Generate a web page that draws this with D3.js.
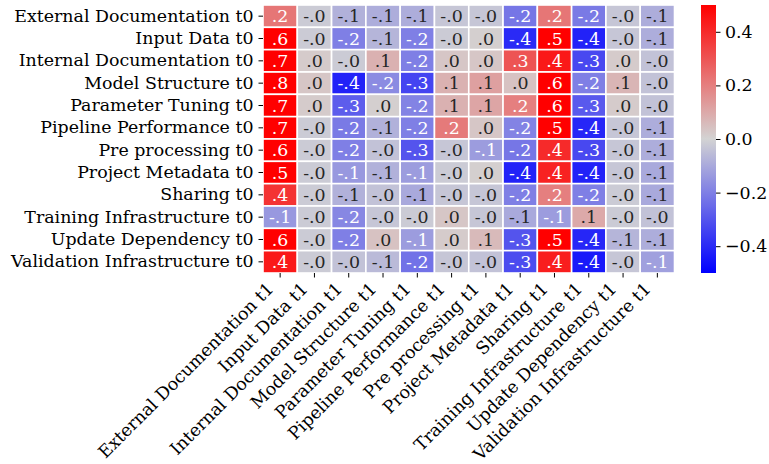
<!DOCTYPE html>
<html><head><meta charset="utf-8">
<script src="https://cdn.jsdelivr.net/npm/d3@7"></script>
<style>body{margin:0;background:#fff}svg{display:block}text{font-family:"DejaVu Serif",serif}</style>
</head><body><svg id="c" width="769" height="464"></svg>
<script>
const rowLabels = ["External Documentation t0","Input Data t0","Internal Documentation t0","Model Structure t0","Parameter Tuning t0","Pipeline Performance t0","Pre processing t0","Project Metadata t0","Sharing t0","Training Infrastructure t0","Update Dependency t0","Validation Infrastructure t0"];
const colLabels = ["External Documentation t1","Input Data t1","Internal Documentation t1","Model Structure t1","Parameter Tuning t1","Pipeline Performance t1","Pre processing t1","Project Metadata t1","Sharing t1","Training Infrastructure t1","Update Dependency t1","Validation Infrastructure t1"];
const values = [
 [0.22,-0.02,-0.08,-0.09,-0.09,-0.03,-0.03,-0.22,0.22,-0.21,-0.03,-0.09],
 [0.60,-0.02,-0.20,-0.07,-0.20,-0.02,0.01,-0.40,0.50,-0.42,-0.03,-0.09],
 [0.68,0.02,-0.02,0.08,-0.20,0.03,0.03,0.30,0.44,-0.33,0.02,-0.04],
 [0.78,0.03,-0.42,-0.17,-0.34,0.08,0.12,0.04,0.60,-0.20,0.07,-0.04],
 [0.70,0.02,-0.28,0.01,-0.19,0.08,0.11,0.20,0.60,-0.29,0.02,-0.04],
 [0.66,-0.02,-0.21,-0.08,-0.20,0.21,0.03,-0.19,0.52,-0.41,-0.03,-0.09],
 [0.62,-0.02,-0.20,-0.04,-0.30,-0.03,-0.13,-0.22,0.40,-0.33,-0.03,-0.09],
 [0.50,-0.02,-0.14,-0.08,-0.13,-0.02,0.01,-0.42,0.42,-0.42,-0.03,-0.10],
 [0.38,-0.02,-0.08,-0.04,-0.10,-0.03,-0.03,-0.20,0.20,-0.20,-0.02,-0.10],
 [-0.14,-0.02,-0.18,-0.03,-0.02,0.03,-0.03,-0.10,-0.13,0.10,-0.02,-0.04],
 [0.58,-0.02,-0.20,0.04,-0.13,0.02,0.06,-0.30,0.52,-0.41,-0.07,-0.09],
 [0.44,-0.02,-0.04,-0.06,-0.23,-0.03,-0.04,-0.32,0.43,-0.44,-0.03,-0.12]
];
const cbarTicks = [-0.4,-0.2,0.0,0.2,0.4];
const vmin = -0.5, vmax = 0.5;

const svg = d3.select("#c");
const FS = 17.4;
const TK = 4.5;
const x0 = 263, x1 = 674.5, y0 = 5, y1 = 273;
const x = d3.scaleBand().domain(colLabels).range([x0, x1]);
const y = d3.scaleBand().domain(rowLabels).range([y0, y1]);
const color = d3.scaleLinear().domain([vmin, 0, vmax]).range(["#0000ff", "#d3d3d3", "#ff0000"]).clamp(true);

function lum(c) {
  const r = d3.rgb(c);
  const f = v => { v /= 255; return v <= 0.03928 ? v / 12.92 : Math.pow((v + 0.055) / 1.055, 2.4); };
  return 0.2126 * f(r.r) + 0.7152 * f(r.g) + 0.0722 * f(r.b);
}
function fmt(v) {
  const s = Math.abs(v).toFixed(1).replace(/^0/, "");
  return (v < 0 ? "-" : "") + s;
}

const cells = [];
values.forEach((row, i) => row.forEach((v, j) => cells.push({r: rowLabels[i], c: colLabels[j], v})));

const g = svg.append("g");
g.selectAll("rect").data(cells).join("rect")
  .attr("x", d => x(d.c)).attr("y", d => y(d.r))
  .attr("width", x.bandwidth()).attr("height", y.bandwidth())
  .attr("fill", d => color(d.v)).attr("stroke", "#fff").attr("stroke-width", 1.6);
g.selectAll("text").data(cells).join("text")
  .attr("x", d => x(d.c) + x.bandwidth() / 2).attr("y", d => y(d.r) + y.bandwidth() / 2)
  .attr("text-anchor", "middle").attr("dominant-baseline", "central")
  .attr("font-size", FS)
  .attr("fill", d => lum(color(d.v)) > 0.408 ? "#262626" : "#fff")
  .text(d => fmt(d.v));

// y axis
const ya = svg.append("g").attr("transform", `translate(${x0},0)`)
  .call(d3.axisLeft(y).tickSize(TK).tickPadding(5));
ya.select(".domain").remove();
ya.selectAll("line").attr("stroke", "#000").attr("stroke-width", 1);
ya.selectAll("text").attr("font-size", FS).attr("fill", "#000").attr("font-family", "DejaVu Serif");

// x axis
const xa = svg.append("g").attr("transform", `translate(0,${y1})`)
  .call(d3.axisBottom(x).tickSize(TK).tickPadding(0));
xa.select(".domain").remove();
xa.selectAll("line").attr("stroke", "#000").attr("stroke-width", 1);
xa.selectAll("text").attr("font-size", FS).attr("fill", "#000").attr("font-family", "DejaVu Serif")
  .attr("text-anchor", "end").attr("dy", null).attr("y", null)
  .attr("transform", `translate(-5.5,17) rotate(-45)`);

// colorbar
const cx0 = 701, cw = 15;
const cy = d3.scaleLinear().domain([vmin, vmax]).range([y1, y0]);
const defs = svg.append("defs");
const grad = defs.append("linearGradient").attr("id", "cb").attr("x1", 0).attr("y1", 1).attr("x2", 0).attr("y2", 0);
d3.range(0, 1.0001, 0.05).forEach(t => grad.append("stop").attr("offset", t).attr("stop-color", color(vmin + t * (vmax - vmin))));
svg.append("rect").attr("x", cx0).attr("y", y0).attr("width", cw).attr("height", y1 - y0).attr("fill", "url(#cb)");
const ca = svg.append("g").attr("transform", `translate(${cx0 + cw},0)`)
  .call(d3.axisRight(cy).tickValues(cbarTicks).tickFormat(d3.format(".1f")).tickSize(TK).tickPadding(4.5));
ca.select(".domain").remove();
ca.selectAll("line").attr("stroke", "#000").attr("stroke-width", 1);
ca.selectAll("text").attr("font-size", FS).attr("fill", "#000").attr("font-family", "DejaVu Serif");
</script></body></html>
